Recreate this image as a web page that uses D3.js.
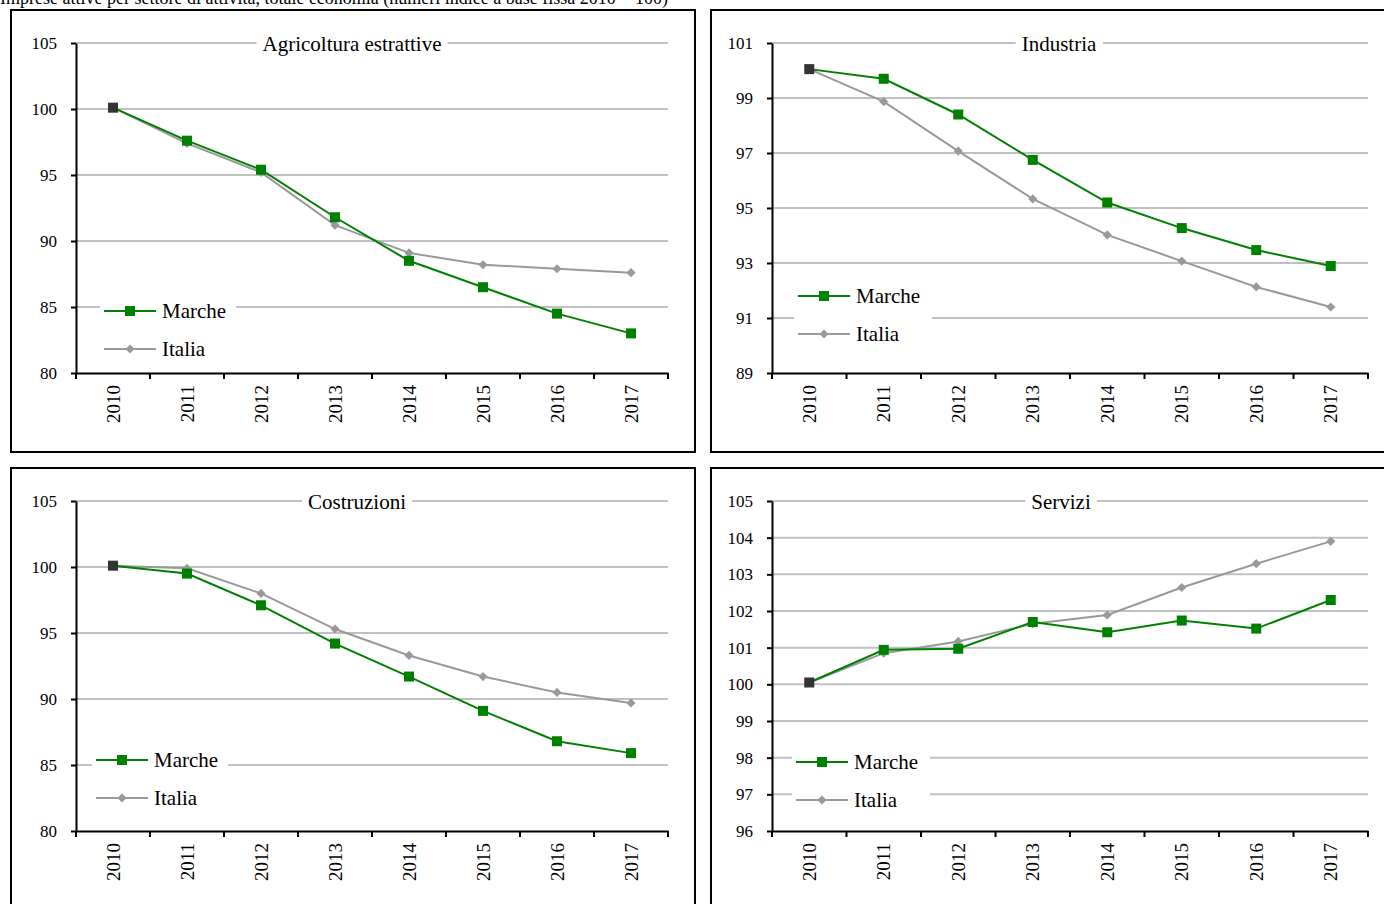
<!DOCTYPE html>
<html>
<head>
<meta charset="utf-8">
<script src="https://cdn.jsdelivr.net/npm/d3@7"></script>
<style>
  body { margin: 0; background: #fff; overflow: hidden; }
  svg { display: block; font-family: "Liberation Serif", "Times New Roman", serif; }
</style>
</head>
<body>
<script>
const years = ['2010', '2011', '2012', '2013', '2014', '2015', '2016', '2017']
const titles = ['Agricoltura estrattive', 'Industria', 'Costruzioni', 'Servizi']
const seriesNames = ['Marche', 'Italia']

const agricMarche = [100.1, 97.6, 95.4, 91.8, 88.5, 86.5, 84.5, 83.0]
const agricItalia = [100.1, 97.4, 95.2, 91.2, 89.1, 88.2, 87.9, 87.6]
const indMarche = [100.05, 99.7, 98.4, 96.75, 95.2, 94.27, 93.47, 92.89]
const indItalia = [100.05, 98.87, 97.07, 95.33, 94.02, 93.07, 92.13, 91.4]
const costrMarche = [100.1, 99.5, 97.1, 94.2, 91.7, 89.1, 86.8, 85.9]
const costrItalia = [100.1, 99.9, 98.0, 95.3, 93.3, 91.7, 90.5, 89.7]
const servMarche = [100.05, 100.94, 100.97, 101.7, 101.42, 101.74, 101.52, 102.3]
const servItalia = [100.05, 100.85, 101.17, 101.65, 101.89, 102.64, 103.29, 103.9]

const yDomains = [[80, 105], [89, 101], [80, 105], [96, 105]]
const yTicks = [
  [80, 85, 90, 95, 100, 105],
  [89, 91, 93, 95, 97, 99, 101],
  [80, 85, 90, 95, 100, 105],
  [96, 97, 98, 99, 100, 101, 102, 103, 104, 105]
]
const marcheData = [agricMarche, indMarche, costrMarche, servMarche]
const italiaData = [agricItalia, indItalia, costrItalia, servItalia]

const GREEN = '#008000'
const GREY = '#999999'

const svg = d3.select('body').append('svg').attr('width', 1384).attr('height', 904)

svg.append('text')
  .attr('x', 0).attr('y', 4)
  .attr('font-size', 18)
  .text('Imprese attive per settore di attività, totale economia (numeri indice a base fissa 2010 = 100)')

// panel geometry
const panels = [
  { bx: 11, by: 10, bw: 684, bh: 442, x0: 76, x1: 668, y0: 43, legX: 104, legY: 311, titleX: 352 },
  { bx: 711, by: 10, bw: 690, bh: 442, x0: 772, x1: 1368, y0: 43, legX: 798, legY: 296, titleX: 1059 },
  { bx: 11, by: 468, bw: 684, bh: 450, x0: 76, x1: 668, y0: 501, legX: 96, legY: 760, titleX: 357 },
  { bx: 711, by: 468, bw: 690, bh: 450, x0: 772, x1: 1368, y0: 501, legX: 796, legY: 762, titleX: 1061 }
]
const PLOT_H = 330
const diamond = d3.symbol(d3.symbolSquare, 42)()

panels.forEach((p, k) => {
  const g = svg.append('g')

  g.append('rect')
    .attr('x', p.bx).attr('y', p.by).attr('width', p.bw).attr('height', p.bh)
    .attr('fill', 'none').attr('stroke', '#000').attr('stroke-width', 2)

  const x = d3.scaleBand().domain(years).range([p.x0, p.x1])
  const y = d3.scaleLinear().domain(yDomains[k]).range([p.y0 + PLOT_H, p.y0])

  // gridlines
  g.selectAll('.grid')
    .data(yTicks[k].slice(1))
    .enter().append('line')
    .attr('x1', p.x0).attr('x2', p.x1)
    .attr('y1', d => y(d)).attr('y2', d => y(d))
    .attr('stroke', '#c0c0c0').attr('stroke-width', 2)

  // y axis
  const ya = g.append('g')
    .attr('transform', `translate(${p.x0},0)`)
    .call(d3.axisLeft(y).tickValues(yTicks[k]).tickSize(5).tickSizeOuter(0).tickPadding(14))
  ya.select('.domain').attr('stroke-width', 2)
  ya.selectAll('.tick line').attr('stroke-width', 2)
  ya.selectAll('text').attr('font-size', 17).attr('font-family', 'Liberation Serif').attr('fill', '#000')

  // x axis
  const xa = g.append('g')
    .attr('transform', `translate(0,${p.y0 + PLOT_H})`)
    .call(d3.axisBottom(x).tickSize(0).tickSizeOuter(0))
  xa.select('.domain').attr('stroke-width', 2)
  xa.selectAll('.tick text')
    .attr('font-size', 19).attr('font-family', 'Liberation Serif').attr('fill', '#000')
    .attr('transform', 'rotate(-90)')
    .attr('text-anchor', 'end')
    .attr('x', -12).attr('y', 0).attr('dy', '0.35em')
  // category boundary ticks
  const bounds = years.map(d => x(d)).concat([p.x1])
  xa.selectAll('.btick')
    .data(bounds)
    .enter().append('line')
    .attr('x1', d => d).attr('x2', d => d)
    .attr('y1', 0).attr('y2', 6)
    .attr('stroke', '#000').attr('stroke-width', 2)

  // legend (white background over gridlines)
  const legW = k % 2 === 0 ? 136 : 138
  g.append('rect')
    .attr('x', p.legX - 4).attr('y', p.legY - 16)
    .attr('width', legW).attr('height', 58)
    .attr('fill', '#fff')

  // chart title with white background
  const tbg = g.append('rect').attr('fill', '#fff')
  const t = g.append('text')
    .attr('x', p.titleX).attr('y', p.y0 + 8)
    .attr('text-anchor', 'middle')
    .attr('font-size', 21)
    .text(titles[k])
  const bb = t.node().getBBox()
  tbg.attr('x', bb.x - 6).attr('y', bb.y).attr('width', bb.width + 12).attr('height', bb.height)

  const line = d3.line()
    .x((d, i) => x(years[i]) + x.bandwidth() / 2)
    .y(d => y(d))

  // Italia
  g.append('path').datum(italiaData[k])
    .attr('d', line).attr('fill', 'none').attr('stroke', GREY).attr('stroke-width', 2)
  g.selectAll('.itm')
    .data(italiaData[k].slice(1))
    .enter().append('path')
    .attr('d', diamond)
    .attr('transform', (d, i) => `translate(${x(years[i + 1]) + x.bandwidth() / 2},${y(d)}) rotate(45)`)
    .attr('fill', GREY)

  // Marche
  g.append('path').datum(marcheData[k])
    .attr('d', line).attr('fill', 'none').attr('stroke', GREEN).attr('stroke-width', 2)
  g.selectAll('.mam')
    .data(marcheData[k])
    .enter().append('rect')
    .attr('x', (d, i) => x(years[i]) + x.bandwidth() / 2 - 5)
    .attr('y', d => y(d) - 5)
    .attr('width', 10).attr('height', 10)
    .attr('fill', (d, i) => i === 0 ? '#333333' : GREEN)

  // legend entries
  seriesNames.forEach((name, j) => {
    const ly = p.legY + j * 38
    const col = j === 0 ? GREEN : GREY
    g.append('line')
      .attr('x1', p.legX).attr('x2', p.legX + 52)
      .attr('y1', ly).attr('y2', ly)
      .attr('stroke', col).attr('stroke-width', 2)
    if (j === 0) {
      g.append('rect')
        .attr('x', p.legX + 21).attr('y', ly - 5).attr('width', 10).attr('height', 10)
        .attr('fill', GREEN)
    } else {
      g.append('path')
        .attr('d', diamond)
        .attr('transform', `translate(${p.legX + 26},${ly}) rotate(45)`)
        .attr('fill', GREY)
    }
    g.append('text')
      .attr('x', p.legX + 58).attr('y', ly + 7)
      .attr('font-size', 21)
      .text(name)
  })
})
</script>
</body>
</html>
